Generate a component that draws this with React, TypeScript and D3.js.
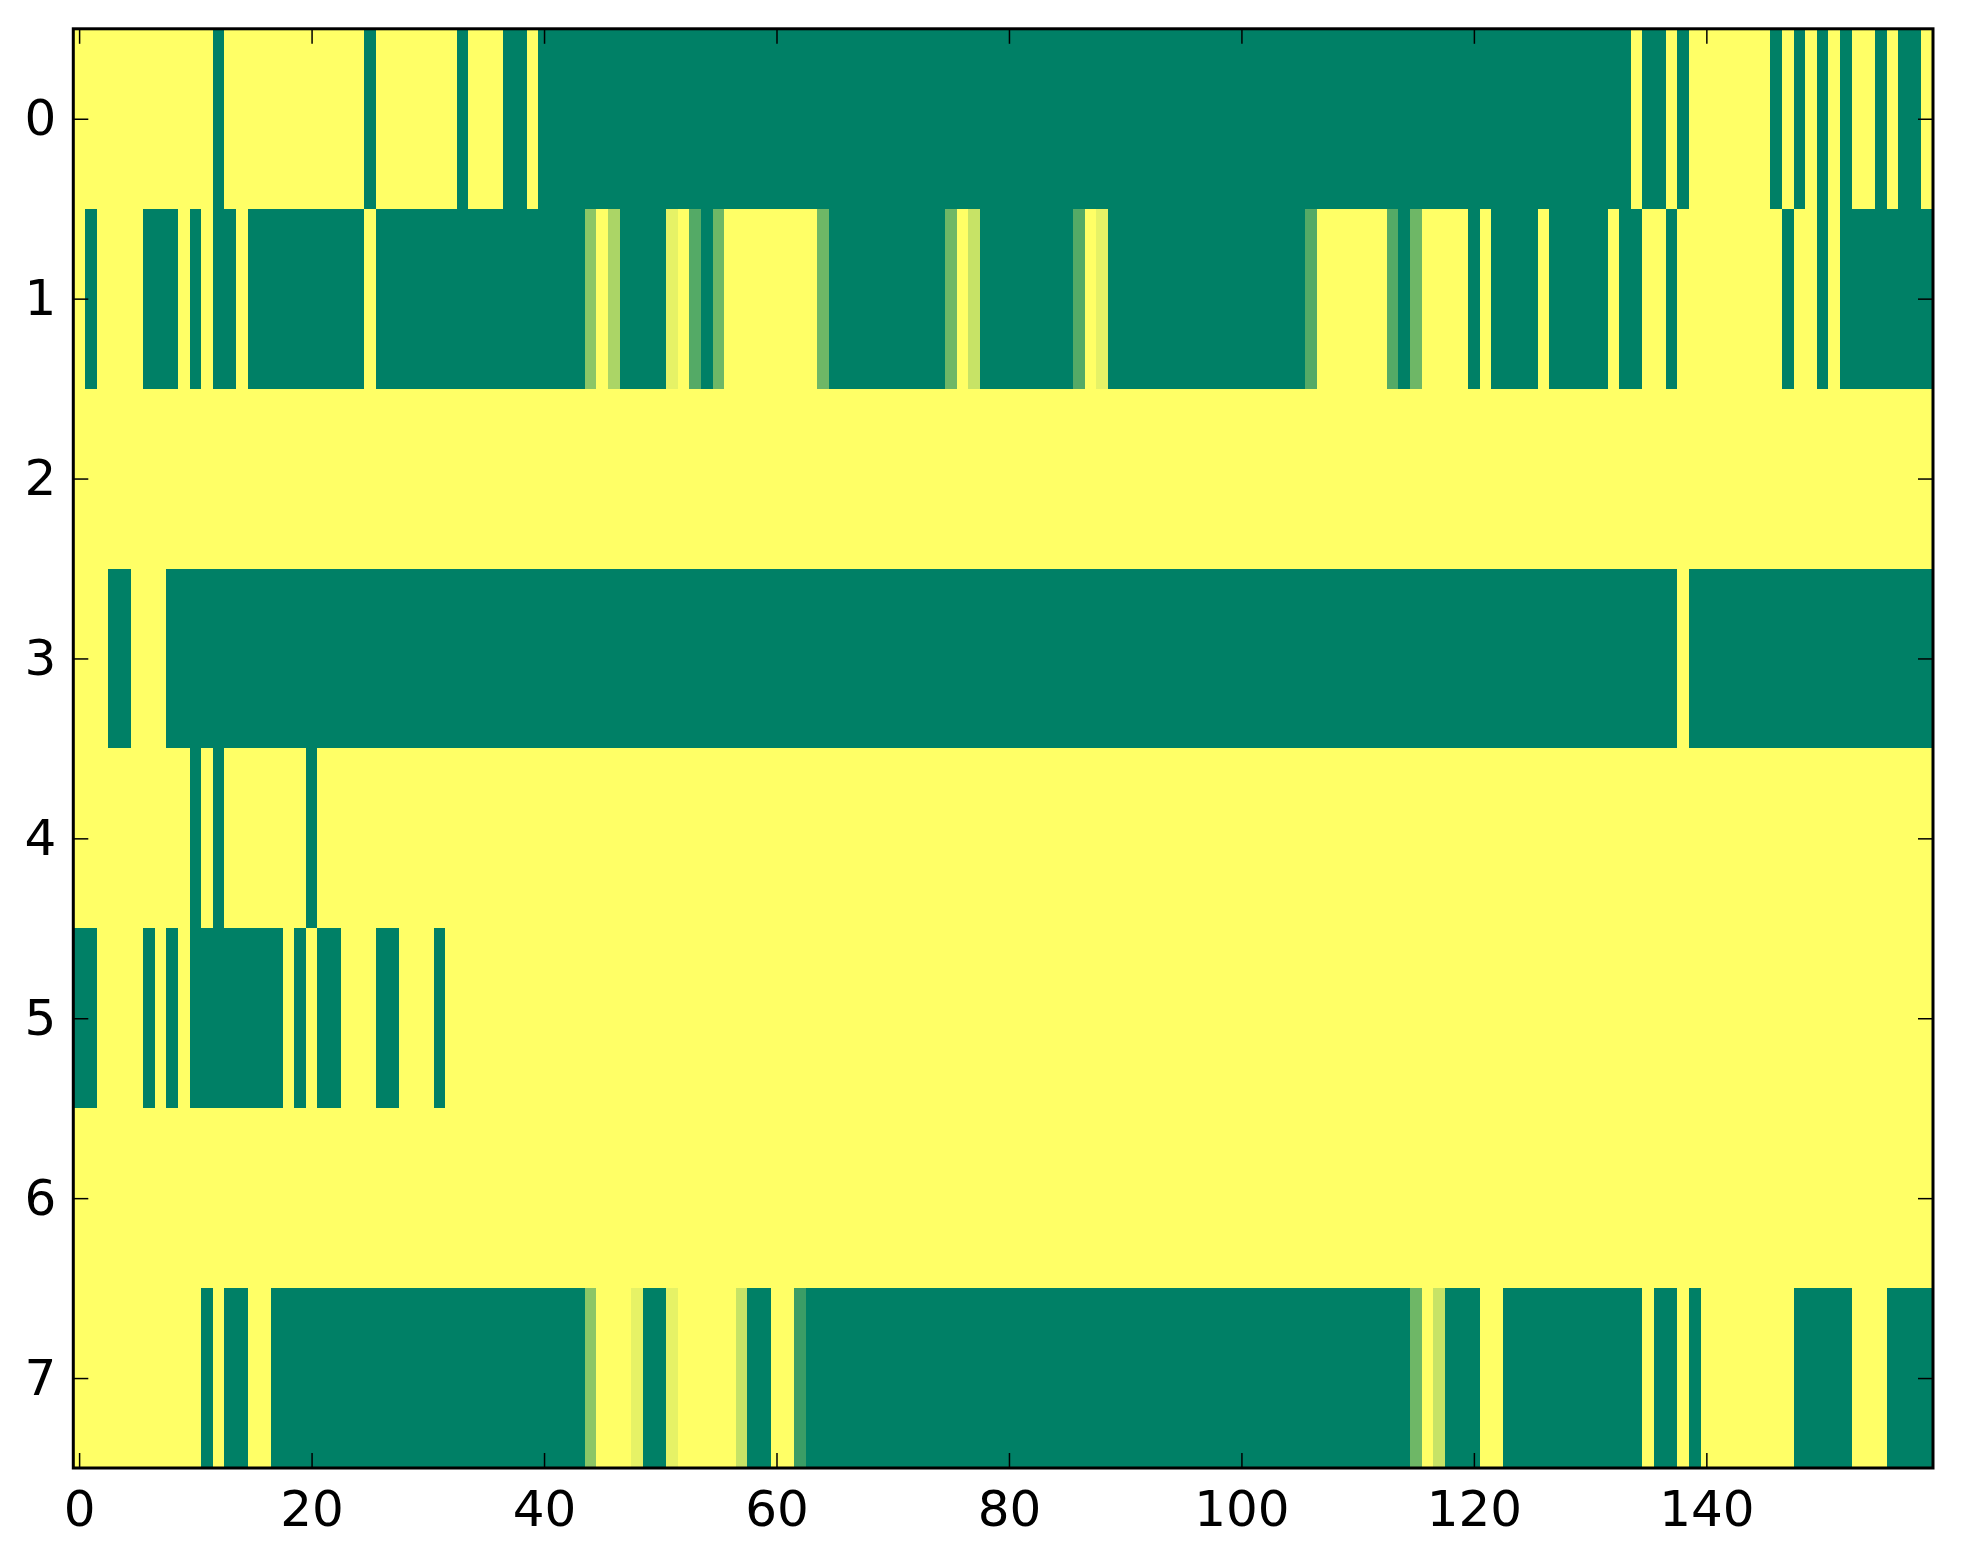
import { useEffect, useRef } from 'react';
import * as d3 from 'd3';

const width = 1963;
const height = 1564;
const marginLeft = 73.3;
const marginRight = 30;
const marginTop = 28.8;
const marginBottom = 96;

// values: 1 = yellow, 0 = green, fractions in between
const row0 = [
  1, 1, 1, 1, 1, 1, 1, 1, 1, 1, 1, 1, 0, 1, 1, 1, 1, 1, 1, 1,
  1, 1, 1, 1, 1, 0, 1, 1, 1, 1, 1, 1, 1, 0, 1, 1, 1, 0, 0, 1,
  0, 0, 0, 0, 0, 0, 0, 0, 0, 0, 0, 0, 0, 0, 0, 0, 0, 0, 0, 0,
  0, 0, 0, 0, 0, 0, 0, 0, 0, 0, 0, 0, 0, 0, 0, 0, 0, 0, 0, 0,
  0, 0, 0, 0, 0, 0, 0, 0, 0, 0, 0, 0, 0, 0, 0, 0, 0, 0, 0, 0,
  0, 0, 0, 0, 0, 0, 0, 0, 0, 0, 0, 0, 0, 0, 0, 0, 0, 0, 0, 0,
  0, 0, 0, 0, 0, 0, 0, 0, 0, 0, 0, 0, 0, 0, 1, 0, 0, 1, 0, 1,
  1, 1, 1, 1, 1, 1, 0, 1, 0, 1, 0, 1, 0, 1, 1, 0, 1, 0, 0, 1,
];
const row1 = [
  1, 0, 1, 1, 1, 1, 0, 0, 0, 1, 0, 1, 0, 0, 1, 0, 0, 0, 0, 0,
  0, 0, 0, 0, 0, 1, 0, 0, 0, 0, 0, 0, 0, 0, 0, 0, 0, 0, 0, 0,
  0, 0, 0, 0, 0.55, 1, 0.67, 0, 0, 0, 0, 0.9, 1, 0.33, 0, 0.43, 1, 1, 1, 1,
  1, 1, 1, 1, 0.43, 0, 0, 0, 0, 0, 0, 0, 0, 0, 0, 0.43, 1, 0.78, 0, 0,
  0, 0, 0, 0, 0, 0, 0.33, 1, 0.9, 0, 0, 0, 0, 0, 0, 0, 0, 0, 0, 0,
  0, 0, 0, 0, 0, 0, 0.33, 1, 1, 1, 1, 1, 1, 0.33, 0, 0.43, 1, 1, 1, 1,
  0, 1, 0, 0, 0, 0, 1, 0, 0, 0, 0, 0, 1, 0, 0, 1, 1, 0, 1, 1,
  1, 1, 1, 1, 1, 1, 1, 0, 1, 1, 0, 1, 0, 0, 0, 0, 0, 0, 0, 0,
];
const row2 = [
  1, 1, 1, 1, 1, 1, 1, 1, 1, 1, 1, 1, 1, 1, 1, 1, 1, 1, 1, 1,
  1, 1, 1, 1, 1, 1, 1, 1, 1, 1, 1, 1, 1, 1, 1, 1, 1, 1, 1, 1,
  1, 1, 1, 1, 1, 1, 1, 1, 1, 1, 1, 1, 1, 1, 1, 1, 1, 1, 1, 1,
  1, 1, 1, 1, 1, 1, 1, 1, 1, 1, 1, 1, 1, 1, 1, 1, 1, 1, 1, 1,
  1, 1, 1, 1, 1, 1, 1, 1, 1, 1, 1, 1, 1, 1, 1, 1, 1, 1, 1, 1,
  1, 1, 1, 1, 1, 1, 1, 1, 1, 1, 1, 1, 1, 1, 1, 1, 1, 1, 1, 1,
  1, 1, 1, 1, 1, 1, 1, 1, 1, 1, 1, 1, 1, 1, 1, 1, 1, 1, 1, 1,
  1, 1, 1, 1, 1, 1, 1, 1, 1, 1, 1, 1, 1, 1, 1, 1, 1, 1, 1, 1,
];
const row3 = [
  1, 1, 1, 0, 0, 1, 1, 1, 0, 0, 0, 0, 0, 0, 0, 0, 0, 0, 0, 0,
  0, 0, 0, 0, 0, 0, 0, 0, 0, 0, 0, 0, 0, 0, 0, 0, 0, 0, 0, 0,
  0, 0, 0, 0, 0, 0, 0, 0, 0, 0, 0, 0, 0, 0, 0, 0, 0, 0, 0, 0,
  0, 0, 0, 0, 0, 0, 0, 0, 0, 0, 0, 0, 0, 0, 0, 0, 0, 0, 0, 0,
  0, 0, 0, 0, 0, 0, 0, 0, 0, 0, 0, 0, 0, 0, 0, 0, 0, 0, 0, 0,
  0, 0, 0, 0, 0, 0, 0, 0, 0, 0, 0, 0, 0, 0, 0, 0, 0, 0, 0, 0,
  0, 0, 0, 0, 0, 0, 0, 0, 0, 0, 0, 0, 0, 0, 0, 0, 0, 0, 1, 0,
  0, 0, 0, 0, 0, 0, 0, 0, 0, 0, 0, 0, 0, 0, 0, 0, 0, 0, 0, 0,
];
const row4 = [
  1, 1, 1, 1, 1, 1, 1, 1, 1, 1, 0, 1, 0, 1, 1, 1, 1, 1, 1, 1,
  0, 1, 1, 1, 1, 1, 1, 1, 1, 1, 1, 1, 1, 1, 1, 1, 1, 1, 1, 1,
  1, 1, 1, 1, 1, 1, 1, 1, 1, 1, 1, 1, 1, 1, 1, 1, 1, 1, 1, 1,
  1, 1, 1, 1, 1, 1, 1, 1, 1, 1, 1, 1, 1, 1, 1, 1, 1, 1, 1, 1,
  1, 1, 1, 1, 1, 1, 1, 1, 1, 1, 1, 1, 1, 1, 1, 1, 1, 1, 1, 1,
  1, 1, 1, 1, 1, 1, 1, 1, 1, 1, 1, 1, 1, 1, 1, 1, 1, 1, 1, 1,
  1, 1, 1, 1, 1, 1, 1, 1, 1, 1, 1, 1, 1, 1, 1, 1, 1, 1, 1, 1,
  1, 1, 1, 1, 1, 1, 1, 1, 1, 1, 1, 1, 1, 1, 1, 1, 1, 1, 1, 1,
];
const row5 = [
  0, 0, 1, 1, 1, 1, 0, 1, 0, 1, 0, 0, 0, 0, 0, 0, 0, 0, 1, 0,
  1, 0, 0, 1, 1, 1, 0, 0, 1, 1, 1, 0, 1, 1, 1, 1, 1, 1, 1, 1,
  1, 1, 1, 1, 1, 1, 1, 1, 1, 1, 1, 1, 1, 1, 1, 1, 1, 1, 1, 1,
  1, 1, 1, 1, 1, 1, 1, 1, 1, 1, 1, 1, 1, 1, 1, 1, 1, 1, 1, 1,
  1, 1, 1, 1, 1, 1, 1, 1, 1, 1, 1, 1, 1, 1, 1, 1, 1, 1, 1, 1,
  1, 1, 1, 1, 1, 1, 1, 1, 1, 1, 1, 1, 1, 1, 1, 1, 1, 1, 1, 1,
  1, 1, 1, 1, 1, 1, 1, 1, 1, 1, 1, 1, 1, 1, 1, 1, 1, 1, 1, 1,
  1, 1, 1, 1, 1, 1, 1, 1, 1, 1, 1, 1, 1, 1, 1, 1, 1, 1, 1, 1,
];
const row6 = [
  1, 1, 1, 1, 1, 1, 1, 1, 1, 1, 1, 1, 1, 1, 1, 1, 1, 1, 1, 1,
  1, 1, 1, 1, 1, 1, 1, 1, 1, 1, 1, 1, 1, 1, 1, 1, 1, 1, 1, 1,
  1, 1, 1, 1, 1, 1, 1, 1, 1, 1, 1, 1, 1, 1, 1, 1, 1, 1, 1, 1,
  1, 1, 1, 1, 1, 1, 1, 1, 1, 1, 1, 1, 1, 1, 1, 1, 1, 1, 1, 1,
  1, 1, 1, 1, 1, 1, 1, 1, 1, 1, 1, 1, 1, 1, 1, 1, 1, 1, 1, 1,
  1, 1, 1, 1, 1, 1, 1, 1, 1, 1, 1, 1, 1, 1, 1, 1, 1, 1, 1, 1,
  1, 1, 1, 1, 1, 1, 1, 1, 1, 1, 1, 1, 1, 1, 1, 1, 1, 1, 1, 1,
  1, 1, 1, 1, 1, 1, 1, 1, 1, 1, 1, 1, 1, 1, 1, 1, 1, 1, 1, 1,
];
const row7 = [
  1, 1, 1, 1, 1, 1, 1, 1, 1, 1, 1, 0, 1, 0, 0, 1, 1, 0, 0, 0,
  0, 0, 0, 0, 0, 0, 0, 0, 0, 0, 0, 0, 0, 0, 0, 0, 0, 0, 0, 0,
  0, 0, 0, 0, 0.55, 1, 1, 1, 0.9, 0, 0, 0.9, 1, 1, 1, 1, 1, 0.78, 0, 0,
  1, 1, 0.23, 0, 0, 0, 0, 0, 0, 0, 0, 0, 0, 0, 0, 0, 0, 0, 0, 0,
  0, 0, 0, 0, 0, 0, 0, 0, 0, 0, 0, 0, 0, 0, 0, 0, 0, 0, 0, 0,
  0, 0, 0, 0, 0, 0, 0, 0, 0, 0, 0, 0, 0, 0, 0, 0.43, 1, 0.78, 0, 0,
  0, 1, 1, 0, 0, 0, 0, 0, 0, 0, 0, 0, 0, 0, 0, 1, 0, 0, 1, 0,
  1, 1, 1, 1, 1, 1, 1, 1, 0, 0, 0, 0, 0, 1, 1, 1, 0, 0, 0, 0,
];

const rows = [row0, row1, row2, row3, row4, row5, row6, row7];
const xTicks = [0, 20, 40, 60, 80, 100, 120, 140];
const yTicks = [0, 1, 2, 3, 4, 5, 6, 7];

// matplotlib "summer": (v, 0.5 + v/2, 0.4)
const summer = d3.interpolateRgb('#008066', '#ffff66');

const App = () => {
  const svgRef = useRef(null);

  useEffect(() => {
    const svg = d3.select(svgRef.current);
    svg.selectAll('*').remove();

    const nCols = rows[0].length;
    const x = d3
      .scaleLinear()
      .domain([-0.5, nCols - 0.5])
      .range([marginLeft, width - marginRight]);
    const y = d3
      .scaleLinear()
      .domain([-0.5, rows.length - 0.5])
      .range([marginTop, height - marginBottom]);

    const cells = [];
    rows.forEach((r, ri) => r.forEach((v, ci) => cells.push({ r: ri, c: ci, v })));

    svg
      .append('g')
      .attr('shape-rendering', 'crispEdges')
      .selectAll('rect')
      .data(cells)
      .join('rect')
      .attr('x', (d) => x(d.c - 0.5))
      .attr('y', (d) => y(d.r - 0.5))
      .attr('width', (d) => x(d.c + 0.5) - x(d.c - 0.5) + 0.5)
      .attr('height', (d) => y(d.r + 0.5) - y(d.r - 0.5) + 0.5)
      .attr('fill', (d) => summer(d.v));

    const tickLen = 15;
    const font = '"DejaVu Sans", sans-serif';

    // inward ticks on all four sides (classic style)
    const bottom = svg.append('g').attr('transform', `translate(0,${height - marginBottom})`);
    bottom
      .call(d3.axisBottom(x).tickValues(xTicks).tickSize(-tickLen).tickPadding(22))
      .call((g) => g.select('.domain').remove());
    const top = svg.append('g').attr('transform', `translate(0,${marginTop})`);
    top
      .call(d3.axisTop(x).tickValues(xTicks).tickSize(-tickLen).tickFormat(() => ''))
      .call((g) => g.select('.domain').remove());
    const left = svg.append('g').attr('transform', `translate(${marginLeft},0)`);
    left
      .call(d3.axisLeft(y).tickValues(yTicks).tickSize(-tickLen).tickPadding(17))
      .call((g) => g.select('.domain').remove());
    const right = svg.append('g').attr('transform', `translate(${width - marginRight},0)`);
    right
      .call(d3.axisRight(y).tickValues(yTicks).tickSize(-tickLen).tickFormat(() => ''))
      .call((g) => g.select('.domain').remove());

    svg
      .selectAll('.tick line')
      .attr('stroke', '#000')
      .attr('stroke-width', 1.5);
    svg
      .selectAll('.tick text')
      .attr('fill', '#000')
      .style('font-family', font)
      .style('font-size', '50px');
    bottom.selectAll('.tick text').attr('dy', '0.71em');

    svg
      .append('rect')
      .attr('x', marginLeft)
      .attr('y', marginTop)
      .attr('width', width - marginRight - marginLeft)
      .attr('height', height - marginBottom - marginTop)
      .attr('fill', 'none')
      .attr('stroke', '#000')
      .attr('stroke-width', 3);
  }, []);

  return (
    <svg
      ref={svgRef}
      width={width}
      height={height}
      viewBox={`0 0 ${width} ${height}`}
      style={{ position: 'absolute', left: 0, top: 0, background: '#fff' }}
    ></svg>
  );
};

export default App;
